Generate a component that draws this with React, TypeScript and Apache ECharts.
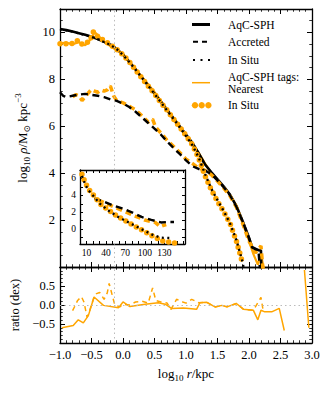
import React, { useEffect, useRef } from 'react';
import * as echarts from 'echarts';

const FONT = '"Liberation Serif", "DejaVu Serif", serif';
const ORANGE = '#FFA500';

// ---- main panel: AqC-SPH (black) ----
const totalX = [-1.0,-0.9,-0.8,-0.7,-0.6,-0.5,-0.4,-0.3,-0.2,-0.1,0.0,0.1,0.2,0.3,0.4,0.5,0.6,0.7,0.8,0.9,1.0,1.1,1.2,1.3,1.4,1.5,1.6,1.7,1.8,1.9,2.0,2.05,2.1,2.15,2.19,2.2];
const totalY = [10.15,10.1,10.04,9.97,9.9,9.82,9.72,9.6,9.48,9.3,9.05,8.75,8.42,8.08,7.74,7.4,7.05,6.7,6.35,6.0,5.65,5.3,4.85,4.38,4.05,3.74,3.43,3.08,2.6,1.95,1.25,0.85,0.78,0.72,0.7,-1];

const accX = [-1.0,-0.95,-0.9,-0.8,-0.7,-0.6,-0.5,-0.4,-0.3,-0.2,-0.1,0.0,0.1,0.2,0.3,0.4,0.5,0.6,0.7,0.8,0.9,1.0,1.1,1.2,1.3,1.4,1.5,1.6,1.7,1.8,1.9,2.0,2.05,2.1,2.15,2.2];
const accY = [7.45,7.3,7.25,7.3,7.35,7.38,7.34,7.3,7.24,7.15,7.08,6.97,6.82,6.62,6.38,6.14,5.9,5.65,5.35,5.08,4.82,4.55,4.3,4.18,4.12,3.96,3.69,3.4,3.05,2.57,1.93,1.23,0.83,0.76,0.7,-1];

const insituX = [-1.0,-0.9,-0.8,-0.7,-0.6,-0.5,-0.4,-0.3,-0.2,-0.1,0.0,0.1,0.2,0.3,0.4,0.5,0.6,0.7,0.8,0.9,1.0,1.1,1.2,1.3,1.4,1.5,1.6,1.7,1.8,1.9,1.95];
const insituY = [10.14,10.09,10.03,9.96,9.89,9.81,9.71,9.59,9.47,9.29,9.04,8.74,8.41,8.07,7.73,7.38,7.03,6.67,6.32,5.96,5.58,5.2,4.68,3.98,3.35,2.85,2.38,1.85,1.15,0.2,-0.6];

// ---- main panel: tags, Nearest (orange) ----
const tagTotX = [-1.0,-0.9,-0.8,-0.7,-0.6,-0.5,-0.45,-0.4,-0.3,-0.2,-0.1,0.0,0.1,0.2,0.3,0.4,0.5,0.6,0.7,0.8,0.9,1.0,1.1,1.2,1.3,1.4,1.5,1.6,1.7,1.8,1.9,2.0,2.07,2.14,2.19,2.25,2.36,2.48,2.56];
const tagTotY = [9.55,9.56,9.5,9.58,9.45,9.75,10.02,9.88,9.6,9.42,9.24,9.1,8.72,8.45,8.1,7.78,7.46,7.08,6.68,6.27,5.93,5.58,5.2,4.88,4.42,4.0,3.68,3.4,3.06,2.62,1.85,1.12,0.55,0.1,0.56,-0.3,-0.8,-1.2,-2];

const tagAccX = [-0.8,-0.75,-0.7,-0.65,-0.6,-0.55,-0.5,-0.45,-0.4,-0.35,-0.3,-0.25,-0.2,-0.15,-0.1,0.0,0.1,0.2,0.3,0.4,0.47,0.52,0.6,0.7,0.8,0.9,1.0,1.1,1.2,1.3,1.4,1.5,1.6,1.7,1.8,1.9,2.0,2.1,2.19,2.25];
const tagAccY = [7.25,7.35,7.3,7.1,7.25,7.42,7.57,7.5,7.45,7.55,7.5,7.55,7.72,7.3,7.1,7.0,6.85,6.7,6.45,6.18,6.3,5.95,5.72,5.4,5.15,4.88,4.6,4.42,4.22,4.12,3.94,3.66,3.36,3.02,2.55,1.85,1.1,0.6,0.9,-1];

const tagInX = [-1.0,-0.9,-0.8,-0.72,-0.66,-0.58,-0.52,-0.47,-0.42,-0.34,-0.2,-0.1,0.0,0.1,0.2,0.3,0.4,0.5,0.6,0.7,0.8,0.9,1.0,1.1,1.2,1.3,1.4,1.5,1.6,1.7,1.8,1.9];
const tagInY = [9.52,9.52,9.53,9.65,9.5,9.55,9.68,10.02,9.87,9.72,9.48,9.28,9.05,8.75,8.4,8.05,7.72,7.38,7.02,6.68,6.32,5.97,5.6,5.22,4.65,3.9,3.3,2.8,2.35,1.85,1.1,0.15];

// ---- ratio panel ----
const ratioTotX = [-0.97,-0.79,-0.71,-0.63,-0.55,-0.46,-0.31,-0.07,0.0,0.11,0.35,0.56,0.67,0.77,0.96,1.17,1.22,1.33,1.46,1.57,1.65,1.8,1.91,2.07,2.14,2.19,2.25,2.36,2.48,2.56,2.7,2.88,2.95];
const ratioTotY: (number | null)[] = [-0.6,-0.54,-0.39,-0.47,-0.28,0.21,-0.01,-0.07,0.08,-0.04,0.02,0.06,0.02,-0.09,-0.08,-0.11,0.06,0.07,-0.05,-0.01,-0.05,0.04,-0.11,-0.14,-0.39,-0.14,-0.18,-0.18,-0.09,-0.67,null,0.92,-0.6];

const ratioAccX = [-0.8,-0.72,-0.66,-0.62,-0.57,-0.53,-0.46,-0.42,-0.37,-0.3,-0.25,-0.22,-0.17,-0.13,-0.05,0.0,0.1,0.2,0.3,0.4,0.47,0.52,0.6,0.7,0.76,0.85,0.95,1.0,1.09,1.2,1.33,1.46,1.57,1.65,1.8,1.91,2.07,2.19,2.22];
const ratioAccY = [-0.15,0.12,0.22,0.08,-0.32,-0.15,0.2,0.3,0.33,0.15,0.32,0.57,0.25,0.0,-0.05,0.02,0.0,0.08,0.1,0.05,0.45,0.12,0.08,0.05,-0.12,0.15,0.08,0.05,0.15,0.06,0.07,-0.05,-0.01,-0.05,0.04,-0.11,-0.14,0.2,-0.1];

// ---- inset (linear r / kpc) ----
const inInsituR = [3,8,13,21,31,44,59,77,95,113,125,140];
const inInsituY = [6.3,5.3,4.6,3.9,3.0,2.2,1.45,0.72,0.0,-0.7,-1.0,-1.05];
const inTagInR = [3,8,13,21,31,44,59,77,95,113,129,147];
const inTagInY = [6.5,5.5,4.77,4.0,3.0,2.24,1.47,0.7,-0.08,-0.86,-1.44,-1.63];
const inAccR = [22,35,50,65,80,95,110,125,135,145];
const inAccY = [3.65,3.3,2.85,2.45,2.0,1.45,1.1,0.8,0.85,0.85];
const inTagAccR = [28,40,55,70,85,100,116,124,129,133];
const inTagAccY = [3.45,3.05,2.55,2.05,1.55,1.08,0.81,0.3,0.45,0.55];

const xTicksMain = { min: -1, max: 3, interval: 0.5 };
const insetXLabels = [10, 40, 70, 100, 130];
const insetYLabels = [0, 2, 4, 6];
const insetYTicks = [-1, 0, 1, 2, 3, 4, 5, 6];
const rMark = -0.14;

const pts = (xs: number[], ys: (number | null)[]) =>
  xs.map((x, i) => [x, ys[i] === null ? '-' : ys[i]]);
const minus = (s: string) => s.replace('-', '\u2212');

function axisCommon(minorSplit: number, tickLen = 5): any {
  return {
    type: 'value',
    axisLine: { show: true, onZero: false, lineStyle: { color: '#000', width: 1.3 } },
    axisTick: { show: true, inside: true, length: tickLen, lineStyle: { color: '#000', width: 1 } },
    minorTick: {
      show: minorSplit > 0,
      splitNumber: minorSplit || 5,
      length: tickLen * 0.55,
      lineStyle: { color: '#000', width: 0.8 },
    },
    splitLine: { show: false },
    minorSplitLine: { show: false },
    axisLabel: { show: false },
  };
}

const labelStyle = (size: number, margin: number) => ({
  show: true,
  color: '#000',
  fontFamily: FONT,
  fontSize: size,
  margin,
});

const richName = {
  n: { fontSize: 13, fontFamily: FONT, color: '#000', lineHeight: 18 },
  i: { fontSize: 13, fontFamily: FONT, fontStyle: 'italic', color: '#000', lineHeight: 18 },
  s: { fontSize: 9, fontFamily: FONT, color: '#000', lineHeight: 8, verticalAlign: 'bottom' },
  p: { fontSize: 9, fontFamily: FONT, color: '#000', lineHeight: 8, verticalAlign: 'top' },
};

const guideStyle = { color: '#bbbbbb', width: 1, type: [1.5, 3] };

export default function App() {
  const ref = useRef<HTMLDivElement>(null);
  useEffect(() => {
    if (!ref.current) return;
    const chart = echarts.init(ref.current, null, { renderer: 'svg' });

    const xAxis: any[] = [
      { ...axisCommon(5), gridIndex: 0, position: 'bottom', ...xTicksMain },
      { ...axisCommon(5), gridIndex: 0, position: 'top', ...xTicksMain },
      {
        ...axisCommon(5), gridIndex: 1, position: 'bottom', ...xTicksMain,
        axisLabel: { ...labelStyle(12.5, 5), formatter: (v: number) => minus(v.toFixed(1)) },
        name: '{n|log}{s|10}{i| r}{n|/kpc}',
        nameLocation: 'middle',
        nameGap: 21,
        nameTextStyle: { rich: richName },
      },
      { ...axisCommon(5), gridIndex: 1, position: 'top', ...xTicksMain },
      {
        ...axisCommon(0, 3), gridIndex: 2, position: 'bottom', min: 0, max: 162, interval: 10,
        axisLabel: {
          ...labelStyle(9.5, 4),
          formatter: (v: number) => (insetXLabels.includes(v) ? String(v) : ''),
        },
      },
      { ...axisCommon(0, 3), gridIndex: 2, position: 'top', min: 0, max: 162, interval: 10 },
    ];

    const yAxis: any[] = [
      {
        ...axisCommon(4), gridIndex: 0, position: 'left', min: 0, max: 11, interval: 2,
        axisLabel: {
          ...labelStyle(12.5, 5),
          formatter: (v: number) => (v > 0 && v % 2 === 0 ? String(v) : ''),
        },
        name: '{n|log}{s|10}{i| ρ}{n|/M}{s|⊙}{n| kpc}{p|−3}',
        nameLocation: 'middle',
        nameGap: 27,
        nameTextStyle: { rich: richName },
      },
      { ...axisCommon(4), gridIndex: 0, position: 'right', min: 0, max: 11, interval: 2 },
      {
        ...axisCommon(5), gridIndex: 1, position: 'left', min: -1, max: 1, interval: 0.5,
        axisLabel: {
          ...labelStyle(12.5, 5),
          formatter: (v: number) => (Math.abs(v) >= 1 ? '' : minus(v.toFixed(1))),
        },
        name: 'ratio (dex)',
        nameLocation: 'middle',
        nameGap: 37,
        nameTextStyle: { color: '#000', fontFamily: FONT, fontSize: 12.5 },
      },
      { ...axisCommon(5), gridIndex: 1, position: 'right', min: -1, max: 1, interval: 0.5 },
      {
        ...axisCommon(0, 3), gridIndex: 2, position: 'left', min: -1.75, max: 7,
        axisTick: { show: true, inside: true, length: 3, customValues: insetYTicks, lineStyle: { color: '#000', width: 1 } },
        axisLabel: { ...labelStyle(9.5, 4), customValues: insetYLabels },
      },
      {
        ...axisCommon(0, 3), gridIndex: 2, position: 'right', min: -1.75, max: 7,
        axisTick: { show: true, inside: true, length: 3, customValues: insetYTicks, lineStyle: { color: '#000', width: 1 } },
      },
    ];

    const line = (xi: number, yi: number, data: any[], ls: any, z = 2) => ({
      type: 'line',
      xAxisIndex: xi,
      yAxisIndex: yi,
      data,
      symbol: 'none',
      showSymbol: false,
      silent: true,
      z,
      lineStyle: ls,
    });

    const series: any[] = [
      {
        type: 'line', xAxisIndex: 0, yAxisIndex: 0, data: [], symbol: 'none', silent: true,
        markLine: {
          silent: true, symbol: ['none', 'none'], label: { show: false },
          lineStyle: guideStyle,
          data: [
            [{ coord: [rMark, 0] }, { coord: [rMark, 0.98] }],
            [{ coord: [rMark, 4.14] }, { coord: [rMark, 11] }],
          ],
        },
      },
      {
        type: 'line', xAxisIndex: 2, yAxisIndex: 2, data: [], symbol: 'none', silent: true,
        markLine: {
          silent: true, symbol: ['none', 'none'], label: { show: false },
          lineStyle: guideStyle,
          data: [{ yAxis: 0 }, { xAxis: rMark }],
        },
      },
      // main
      line(0, 0, pts(tagTotX, tagTotY), { color: ORANGE, width: 2.2 }),
      line(0, 0, pts(totalX, totalY), { color: '#000', width: 2.6 }),
      line(0, 0, pts(tagAccX, tagAccY), { color: ORANGE, width: 3.5, type: [6, 4] }),
      line(0, 0, pts(accX, accY), { color: '#000', width: 2.4, type: [7, 4.5] }),
      line(0, 0, pts(tagInX, tagInY), { color: ORANGE, width: 5.5, type: [0, 6], cap: 'round', join: 'round' }),
      line(0, 0, pts(insituX, insituY), { color: '#000', width: 2.3, type: [2, 3.5] }),
      // ratio
      line(2, 2, pts(ratioTotX, ratioTotY), { color: ORANGE, width: 1.5 }),
      line(2, 2, pts(ratioAccX, ratioAccY), { color: ORANGE, width: 1.5, type: [5, 4] }),
      // inset
      line(4, 4, pts(inTagAccR, inTagAccY), { color: ORANGE, width: 3.5, type: [6, 4] }, 5),
      line(4, 4, pts(inAccR, inAccY), { color: '#000', width: 2.4, type: [7, 4.5] }, 5),
      line(4, 4, pts(inTagInR, inTagInY), { color: ORANGE, width: 5.5, type: [0, 6], cap: 'round', join: 'round' }, 5),
      line(4, 4, pts(inInsituR, inInsituY), { color: '#000', width: 2.3, type: [2, 3.5] }, 5),
    ];

    const lx1 = 192, lx2 = 210, tx = 228;
    const txt = (text: string, y: number) => ({
      type: 'text', x: tx, y, silent: true,
      style: { text, fill: '#000', fontFamily: FONT, fontSize: 11.5, verticalAlign: 'middle', align: 'left' },
    });
    const graphic: any[] = [
      { type: 'line', silent: true, shape: { x1: lx1, y1: 24.5, x2: lx2, y2: 24.5 }, style: { stroke: '#000', lineWidth: 3 } },
      txt('AqC-SPH', 24.5),
      { type: 'line', silent: true, shape: { x1: 193, y1: 41.7, x2: 208, y2: 41.7 }, style: { stroke: '#000', lineWidth: 2, lineDash: [5, 4] } },
      txt('Accreted', 41.7),
      { type: 'line', silent: true, shape: { x1: 193, y1: 60, x2: 211, y2: 60 }, style: { stroke: '#000', lineWidth: 2, lineDash: [2, 5.5] } },
      txt('In Situ', 60),
      { type: 'line', silent: true, shape: { x1: lx1, y1: 82.7, x2: lx2, y2: 82.7 }, style: { stroke: ORANGE, lineWidth: 1.5 } },
      txt('AqC-SPH tags:', 77.3),
      txt('Nearest', 89.3),
      { type: 'circle', silent: true, shape: { cx: 195, cy: 105.3, r: 3.2 }, style: { fill: ORANGE } },
      { type: 'circle', silent: true, shape: { cx: 201.7, cy: 105.3, r: 3.2 }, style: { fill: ORANGE } },
      { type: 'circle', silent: true, shape: { cx: 208.4, cy: 105.3, r: 3.2 }, style: { fill: ORANGE } },
      txt('In Situ', 105.3),
    ];

    chart.setOption({
      animation: false,
      backgroundColor: '#fff',
      grid: [
        { left: 60, top: 9, width: 252, height: 258 },
        { left: 60, top: 267, width: 252, height: 76 },
        { left: 80, top: 170, width: 105, height: 74, show: true, backgroundColor: '#fff', borderWidth: 0 },
      ],
      xAxis,
      yAxis,
      series,
      graphic,
    });
    return () => chart.dispose();
  }, []);

  return (
    <div
      ref={ref}
      style={{ position: 'absolute', left: 0, top: 0, width: 330, height: 412, background: '#fff' }}
    />
  );
}
